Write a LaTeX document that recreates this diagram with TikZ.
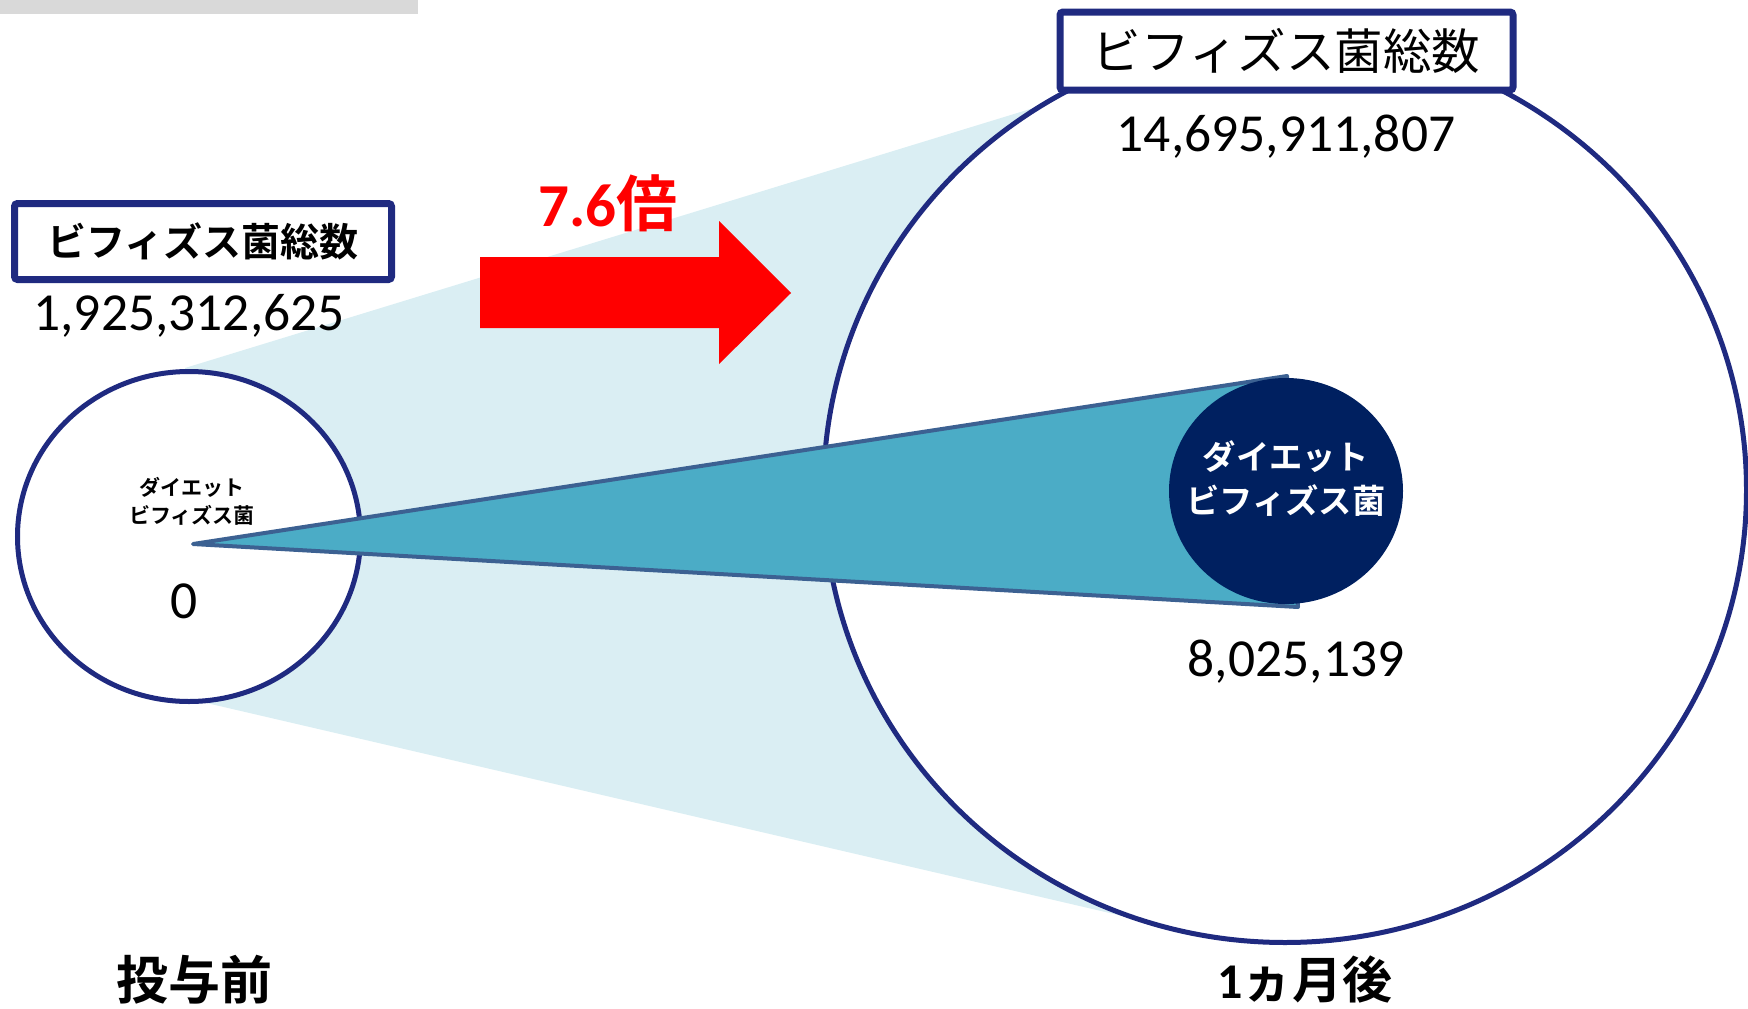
\documentclass[tikz,border=0pt]{standalone}
\usepackage{fontspec}
\setmainfont{Carlito}
\newfontfamily\cjk{Noto Sans CJK JP}[BoldFont={Noto Sans CJK JP Bold}]
\usetikzlibrary{shapes.geometric}
\definecolor{navyline}{HTML}{1F2A80}
\definecolor{navyfill}{HTML}{002060}
\definecolor{lightcone}{HTML}{DAEEF3}
\definecolor{conefill}{HTML}{4BACC6}
\definecolor{coneline}{HTML}{3C6192}
\definecolor{graybar}{HTML}{D9D9D9}
\tikzset{
  ring/.style={ellipse, draw=navyline, line width=5pt, fill=white, inner sep=0pt},
  titlebox/.style={draw=navyline, line width=7pt, rounded corners=3pt, fill=white, inner sep=0pt},
  numtext/.style={font=\fontsize{53.5}{57}\selectfont, anchor=base, inner sep=0pt},
}
\begin{document}
\begin{tikzpicture}[x=1pt,y=-1pt]
\useasboundingbox (0,0) rectangle (1748,1009);
% top-left gray bar
\fill[graybar] (0,0) rectangle (418,14);
% light projection
\fill[lightcone] (185,368) -- (1200,57) -- (1200,934) -- (185,698) -- cycle;
% circles
\node[ring, minimum width=343pt, minimum height=330pt] (before) at (189,536.5) {};
\node[ring, minimum width=923pt, minimum height=905pt] (after) at (1285,490) {};
% cone
\coordinate (apex) at (193,544);
\coordinate (ctop) at (1287,376);
\coordinate (cbot) at (1298,607);
\filldraw[fill=conefill, draw=coneline, line width=4pt, line join=round, line cap=round] (apex) -- (ctop) -- (cbot) -- cycle;
\node[ellipse, fill=navyfill, inner sep=0pt, minimum width=234pt, minimum height=226pt] (diet) at (1286,491) {};
\node[align=center, text=white, font=\cjk\bfseries\fontsize{33.3}{44}\selectfont, inner sep=0pt] (dietlabel) at (1286,479) {ダイエット\\ビフィズス菌};
% boxes
\node[titlebox, minimum width=377pt, minimum height=76pt, font=\cjk\bfseries\fontsize{39}{41}\selectfont] (boxL) at (203,241.5) {ビフィズス菌総数};
\node[titlebox, minimum width=453pt, minimum height=78pt, font=\cjk\fontsize{48.5}{50}\selectfont] (boxR) at (1286.5,51) {ビフィズス菌総数};
% numbers
\node[numtext] (numL) at (189,330) {1,925,312,625};
\node[numtext] (numR) at (1286,151) {14,695,911,807};
\node[numtext] (numD) at (1296,676) {8,025,139};
\node[numtext] (zero) at (184.5,618) {0};
% small label in left circle
\node[align=center, font=\cjk\bfseries\fontsize{21}{28}\selectfont, inner sep=0pt] (dietsmall) at (192,501) {ダイエット\\ビフィズス菌};
% red arrow
\fill[red] (480,257) -- (719,257) -- (719,221) -- (791,293) -- (719,364) -- (719,328) -- (480,328) -- cycle;
\node[anchor=base, text=red, inner sep=0pt, font=\fontsize{61}{64}\selectfont] (ratio) at (608,226) {\bfseries 7.6{\cjk\bfseries 倍}};
% bottom labels
\node[anchor=base, inner sep=0pt, font=\cjk\bfseries\fontsize{52}{56}\selectfont] (pre) at (194,999) {投与前};
\node[anchor=base, inner sep=0pt, font=\fontsize{50}{54}\selectfont] (post) at (1305,998) {\bfseries 1{\cjk\bfseries ヵ月後}};
\end{tikzpicture}
\end{document}
